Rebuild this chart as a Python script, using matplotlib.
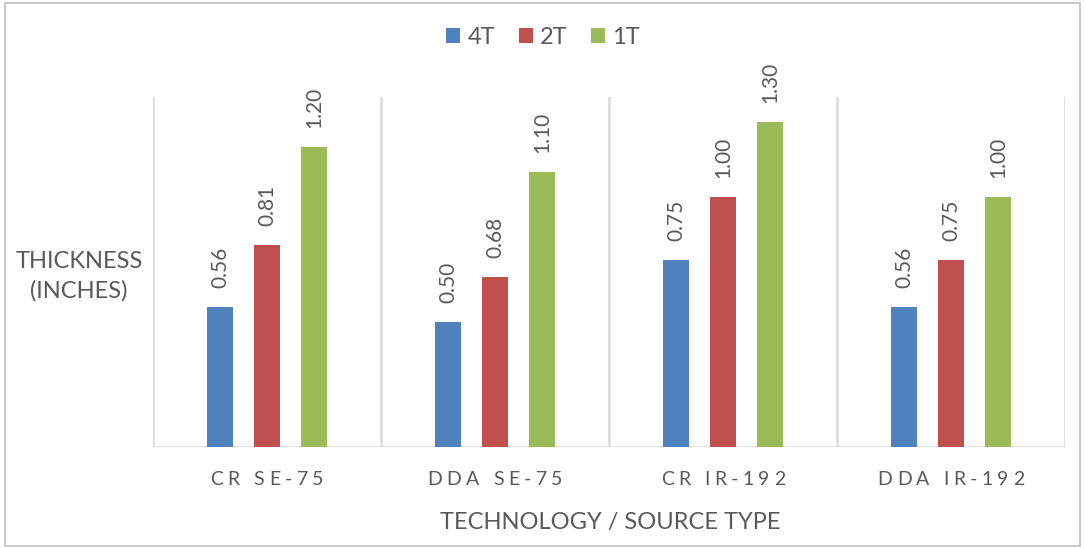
import numpy as np
import matplotlib
matplotlib.use("Agg")
import matplotlib.pyplot as plt
from matplotlib.patches import Rectangle

plt.rcParams["font.family"] = ["Lato", "DejaVu Sans"]

categories = ["CR SE-75", "DDA SE-75", "CR IR-192", "DDA IR-192"]
series_names = ["4T", "2T", "1T"]
thk_4t = [0.56, 0.50, 0.75, 0.56]
thk_2t = [0.81, 0.68, 1.00, 0.75]
thk_1t = [1.20, 1.10, 1.30, 1.00]

colors = ["#4F81BD", "#C0504D", "#9BBB59"]
text_gray = "#595959"
grid_gray = "#D9D9D9"


def tracked_text(fig, ax, xc, yc, s, track_px, **kw):
    # draw a label one glyph at a time with extra letter spacing (in pixels)
    renderer = fig.canvas.get_renderer()
    widths = []
    for ch in s:
        t = fig.text(0, 0, ch if ch != " " else "n", **kw)
        w = t.get_window_extent(renderer).width
        if ch == " ":
            w *= 0.45
        widths.append(w)
        t.remove()
    total = sum(widths) + track_px * (len(s) - 1)
    px0, py0 = ax.transData.transform((xc, yc))
    cur = px0 - total / 2
    for ch, w in zip(s, widths):
        if ch != " ":
            fig.text(cur / fig.dpi / fig.get_figwidth(),
                     py0 / fig.dpi / fig.get_figheight(), ch,
                     ha="left", va="center", **kw)
        cur += w + track_px


fig = plt.figure(figsize=(10.86, 5.48), dpi=100)
ax = fig.add_axes([153 / 1086, 101 / 548, 912 / 1086, 350 / 548])

# outer chart frame
fig.patches.append(Rectangle((5 / 1086, 2 / 548), 1075 / 1086, 543 / 548,
                             transform=fig.transFigure, fill=False,
                             edgecolor="#BFBFBF", linewidth=1.2))

x = np.arange(len(categories)) + 0.5
offsets = [-0.206, 0.0, 0.206]
width = 0.11
all_series = [thk_4t, thk_2t, thk_1t]

for vals, off, col, name in zip(all_series, offsets, colors, series_names):
    bars = ax.bar(x + off, vals, width, color=col, label=name, zorder=3)
    for b, v in zip(bars, vals):
        ax.text(b.get_x() + b.get_width() / 2, v + 0.075, f"{v:.2f}",
                rotation=90, ha="center", va="bottom", fontsize=15,
                color=text_gray)

ax.set_xlim(0, 4)
ax.set_ylim(0, 1.4)
for xs in range(0, 5):
    ax.axvline(xs, color=grid_gray, linewidth=1.8, zorder=1)
ax.axhline(0, color=grid_gray, linewidth=1.8, zorder=2)

for s in ax.spines.values():
    s.set_visible(False)
ax.set_yticks([])
ax.set_xticks([])

for xc, cat in zip(x, categories):
    tracked_text(fig, ax, xc, -0.13, cat, 4.5, fontsize=14, color=text_gray)

fig.text(610 / 1086, 1 - 522 / 548, "TECHNOLOGY / SOURCE TYPE", ha="center",
         va="center", fontsize=17, color=text_gray)
fig.text(79 / 1086, 1 - 276 / 548, "THICKNESS\n(INCHES)", ha="center",
         va="center", fontsize=17, color=text_gray, linespacing=1.45)

fig.legend(loc="center", bbox_to_anchor=(543 / 1086, 1 - 37 / 548), ncol=3,
           frameon=False, fontsize=17, handlelength=0.6, handleheight=0.6,
           handletextpad=0.3, columnspacing=1.0, labelcolor=text_gray)

fig.savefig("out.png", dpi=100, facecolor="white")
